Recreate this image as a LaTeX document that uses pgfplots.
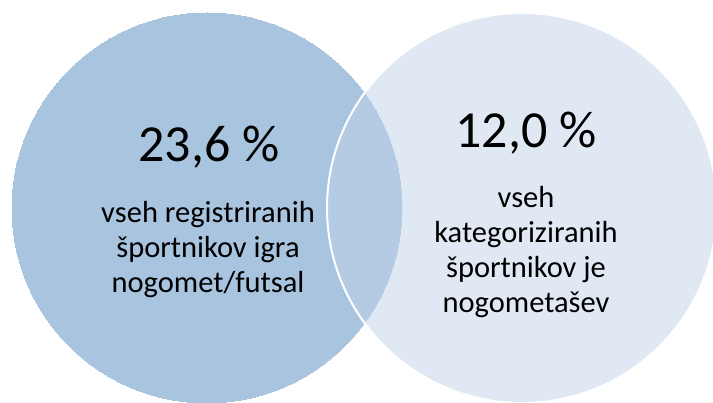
\documentclass[border=0pt]{standalone}
\usepackage{pgfplots}
\pgfplotsset{compat=1.18}
\usepackage{fontspec}
\setmainfont{Carlito}
\definecolor{leftc}{RGB}{168,196,223}
\definecolor{rightc}{RGB}{194,210,232}
\begin{document}
\begin{tikzpicture}
\begin{axis}[
 scale only axis, width=713pt, height=403pt,
 xmin=0, xmax=713, ymin=0, ymax=403,
 hide axis, clip=true, clip marker paths=true,
]
% circles: centres in pixel units, radius 195
\addplot[only marks, mark=*, mark size=195pt, mark options={fill=leftc, draw=leftc, line width=0pt}] coordinates {(207,195)};
\addplot[only marks, mark=*, mark size=195pt, mark options={fill=rightc, fill opacity=0.5, draw=white, line width=2pt}] coordinates {(522,195)};
% left texts
\node[anchor=base, inner sep=0pt, font=\fontsize{52}{60}\selectfont] at (axis cs:209,241) {23,6 \%};
\begin{scope}[every node/.style={anchor=base, inner sep=0pt, font=\fontsize{30.5}{35}\selectfont}]
\node at (axis cs:208,180) {vseh registriranih};
\node at (axis cs:208,145) {športnikov igra};
\node at (axis cs:208,110) {nogomet/futsal};
\end{scope}
% right texts
\node[anchor=base, inner sep=0pt, font=\fontsize{52}{60}\selectfont] at (axis cs:526,255) {12,0 \%};
\begin{scope}[every node/.style={anchor=base, inner sep=0pt, font=\fontsize{30.5}{35}\selectfont}]
\node at (axis cs:526,195) {vseh};
\node at (axis cs:526,160) {kategoriziranih};
\node at (axis cs:526,125) {športnikov je};
\node at (axis cs:526,90) {nogometašev};
\end{scope}
\end{axis}
\pgfresetboundingbox
\useasboundingbox (current axis.south west) rectangle (current axis.north east);
\end{tikzpicture}
\end{document}
